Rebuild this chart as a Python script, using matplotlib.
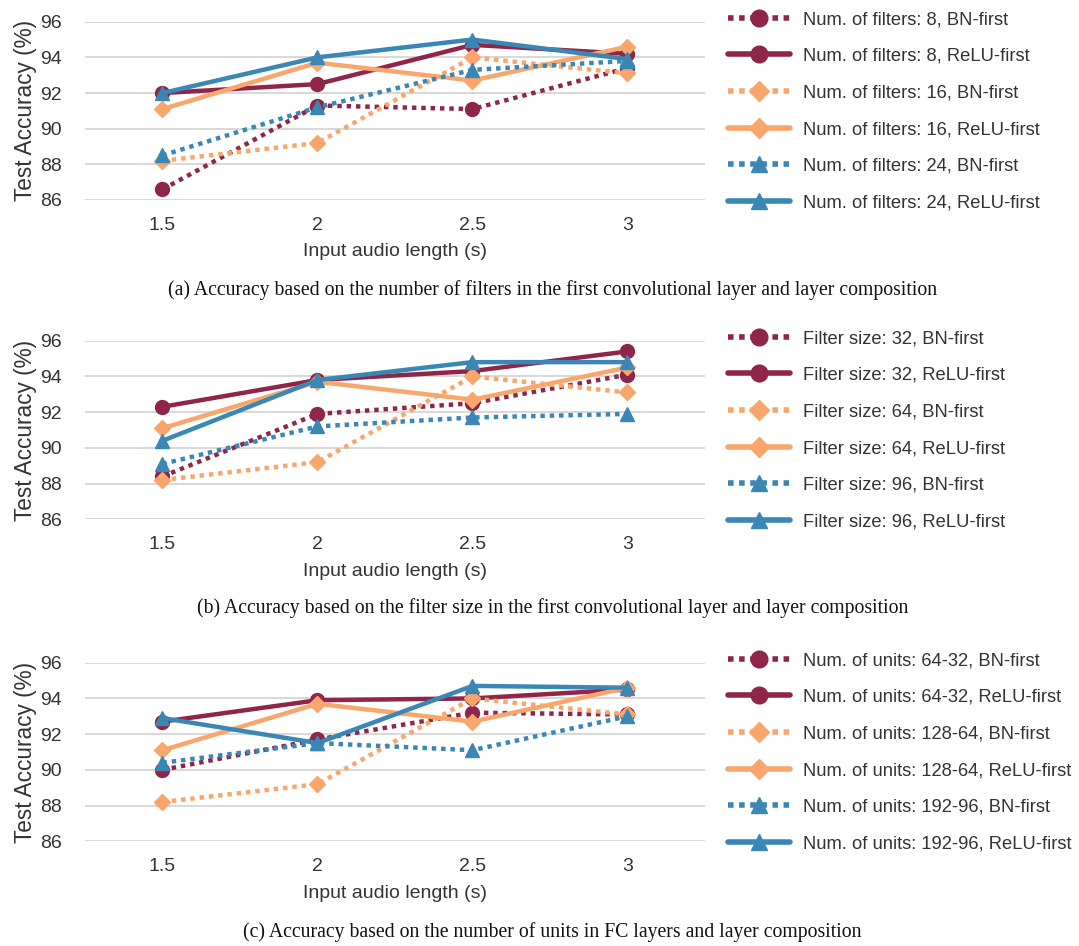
import numpy as np
import matplotlib.pyplot as plt
from matplotlib.lines import Line2D

plt.rcParams['font.family'] = ['Liberation Sans', 'DejaVu Sans']

# Data
lengths = [1.5, 2, 2.5, 3]
x_labels = ['1.5', '2', '2.5', '3']

# (a) number of filters
filters_8_bn = [86.6, 91.3, 91.1, 93.4]
filters_8_relu = [92.0, 92.5, 94.7, 94.2]
filters_16_bn = [88.2, 89.2, 94.0, 93.1]
filters_16_relu = [91.1, 93.7, 92.7, 94.6]
filters_24_bn = [88.5, 91.2, 93.3, 93.8]
filters_24_relu = [92.0, 94.0, 95.0, 93.9]

# (b) filter size
size_32_bn = [88.4, 91.9, 92.5, 94.1]
size_32_relu = [92.3, 93.8, 94.3, 95.4]
size_64_bn = [88.2, 89.2, 94.0, 93.1]
size_64_relu = [91.1, 93.7, 92.7, 94.5]
size_96_bn = [89.1, 91.2, 91.7, 91.9]
size_96_relu = [90.4, 93.8, 94.8, 94.8]

# (c) number of units
units_64_bn = [90.0, 91.7, 93.2, 93.1]
units_64_relu = [92.7, 93.9, 94.0, 94.5]
units_128_bn = [88.2, 89.2, 94.0, 93.1]
units_128_relu = [91.1, 93.7, 92.7, 94.6]
units_192_bn = [90.4, 91.5, 91.1, 93.0]
units_192_relu = [92.9, 91.5, 94.7, 94.6]

panels = [
    ([('Num. of filters: 8, BN-first', filters_8_bn),
      ('Num. of filters: 8, ReLU-first', filters_8_relu),
      ('Num. of filters: 16, BN-first', filters_16_bn),
      ('Num. of filters: 16, ReLU-first', filters_16_relu),
      ('Num. of filters: 24, BN-first', filters_24_bn),
      ('Num. of filters: 24, ReLU-first', filters_24_relu)],
     '(a) Accuracy based on the number of filters in the first convolutional layer and layer composition'),
    ([('Filter size: 32, BN-first', size_32_bn),
      ('Filter size: 32, ReLU-first', size_32_relu),
      ('Filter size: 64, BN-first', size_64_bn),
      ('Filter size: 64, ReLU-first', size_64_relu),
      ('Filter size: 96, BN-first', size_96_bn),
      ('Filter size: 96, ReLU-first', size_96_relu)],
     '(b) Accuracy based on the filter size in the first convolutional layer and layer composition'),
    ([('Num. of units: 64-32, BN-first', units_64_bn),
      ('Num. of units: 64-32, ReLU-first', units_64_relu),
      ('Num. of units: 128-64, BN-first', units_128_bn),
      ('Num. of units: 128-64, ReLU-first', units_128_relu),
      ('Num. of units: 192-96, BN-first', units_192_bn),
      ('Num. of units: 192-96, ReLU-first', units_192_relu)],
     '(c) Accuracy based on the number of units in FC layers and layer composition'),
]

colors = ['#8F2549', '#8F2549', '#F9A66C', '#F9A66C', '#3A86B4', '#3A86B4']
markers = ['o', 'o', 'D', 'D', '^', '^']
msizes = [10, 10, 8.5, 8.5, 10, 10]
dotted = [True, False, True, False, True, False]

W, H = 1079, 946
fig = plt.figure(figsize=(W / 100, H / 100), dpi=100)

# axes placement in pixels: (96 gridline, 86 gridline)
tops = [21.7, 340.7, 662.7]
bottoms = [200.0, 519.3, 841.3]
caption_y = [290, 608, 932]
left_px, right_px = 85, 705
text_col = '#333333'

for (series, caption), top, bot, cy in zip(panels, tops, bottoms, caption_y):
    ax = fig.add_axes([left_px / W, 1 - bot / H, (right_px - left_px) / W, (bot - top) / H])
    for i, (label, vals) in enumerate(series):
        if dotted[i]:
            ax.plot(lengths, vals, color=colors[i], lw=3.2, ls=(0, (1, 1.1)),
                    dash_capstyle='butt', marker=markers[i], ms=msizes[i],
                    label=label, clip_on=False, zorder=3)
        else:
            ax.plot(lengths, vals, color=colors[i], lw=3.2, ls='-',
                    solid_capstyle='round', marker=markers[i], ms=msizes[i],
                    label=label, clip_on=False, zorder=3)
    ax.set_xlim(1.25, 3.25)
    ax.set_ylim(86, 96)
    ax.set_yticks([86, 88, 90, 92, 94, 96])
    ax.set_xticks(lengths)
    ax.set_xticklabels(x_labels)
    ax.grid(axis='y', color='#D9D9D9', lw=1.5)
    ax.set_axisbelow(True)
    for s in ax.spines.values():
        s.set_visible(False)
    ax.tick_params(length=0, labelsize=14, colors=text_col)
    ax.tick_params(axis='x', pad=12)
    ax.tick_params(axis='y', pad=17)
    ax.set_xlabel('Input audio length (s)', fontsize=14, color=text_col, labelpad=7)
    ax.set_ylabel('Test Accuracy (%)', fontsize=16.3, color=text_col, labelpad=2)

    handles = []
    for i, (label, vals) in enumerate(series):
        handles.append(Line2D([], [], color=colors[i], lw=4, marker=markers[i],
                              ms=msizes[i] + 2,
                              ls=(0, (1, 1)) if dotted[i] else '-',
                              dash_capstyle='butt', solid_capstyle='round'))
    leg = ax.legend(handles, [s[0] for s in series], loc='upper left',
                    bbox_to_anchor=(728 / W, 1 - (top - 10.5) / H),
                    bbox_transform=fig.transFigure, frameon=False,
                    fontsize=13.2, handlelength=3.4, handletextpad=0.71,
                    labelspacing=1.07, borderaxespad=0, borderpad=0)
    for t in leg.get_texts():
        t.set_color(text_col)

    fig.text(0.512, 1 - cy / H, caption, ha='center', va='center',
             fontsize=14.2, family='Liberation Serif', color='#111111')

fig.savefig('out.png', dpi=100)
